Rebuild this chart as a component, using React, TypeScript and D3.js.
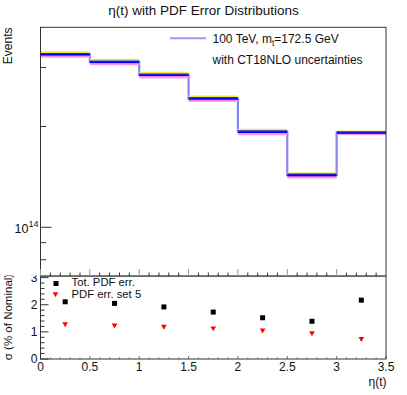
import React, { useEffect, useRef } from 'react';
import * as d3 from 'd3';

// eta(t) bins
const binEdges = [0, 0.5, 1, 1.5, 2, 2.5, 3, 3.5];

// Nominal histogram and a few PDF error sets (events per bin)
const nominal = [3.285e14, 3.12e14, 2.853e14, 2.424e14, 1.929e14, 1.433e14, 1.916e14];
const setYellow = [3.335e14, 3.167e14, 2.896e14, 2.46e14, 1.958e14, 1.453e14, 1.935e14];
const setPink = [3.228e14, 3.066e14, 2.803e14, 2.382e14, 1.896e14, 1.409e14, 1.899e14];
const setMagenta = [3.255e14, 3.092e14, 2.827e14, 2.402e14, 1.912e14, 1.42e14, 1.905e14];
const setNavy = [3.3e14, 3.135e14, 2.866e14, 2.436e14, 1.938e14, 1.44e14, 1.925e14];
const setBlue = [3.275e14, 3.11e14, 2.845e14, 2.417e14, 1.923e14, 1.429e14, 1.912e14];

// Lower pad: sigma in % of nominal
const binCenters = [0.25, 0.75, 1.25, 1.75, 2.25, 2.75, 3.25];
const totPdfErr = [2.11, 2.05, 1.92, 1.73, 1.52, 1.39, 2.17];
const pdfSet5Err = [1.29, 1.25, 1.2, 1.14, 1.06, 0.96, 0.75];

const xTicks = [0, 0.5, 1, 1.5, 2, 2.5, 3, 3.5];
const xTickLabels = ['0', '0.5', '1', '1.5', '2', '2.5', '3', '3.5'];
const ratioTicks = [0, 1, 2, 3];
const eventMinorTicks = [8e13, 9e13, 2e14, 3e14];

const W = 407;
const H = 395;
const font = 'Liberation Sans, Arial, Helvetica, sans-serif';
const frame = '#333';

const App = () => {
  const svgRef = useRef<SVGSVGElement>(null);

  useEffect(() => {
    const svg = d3.select(svgRef.current);
    svg.selectAll('*').remove();

    const left = 40.5;
    const right = 386;
    const topY = 27.3;
    const splitY = 276;
    const bottomY = 359;

    const x = d3.scaleLinear().domain([0, 3.5]).range([left, right]);
    const yTop = d3.scaleLog().domain([7.154e13, 3.955e14]).range([splitY, topY]);
    const yBot = d3.scaleLinear().domain([0, 3.06]).range([bottomY, splitY]);

    // ---------- lower pad ----------
    const low = svg.append('g');

    // y ticks, minor every 0.2
    d3.range(0, 3.01, 0.2).forEach((v) => {
      const major = Math.abs(v - Math.round(v)) < 1e-6;
      low.append('line')
        .attr('x1', left).attr('x2', left + (major ? 8 : 4))
        .attr('y1', yBot(v)).attr('y2', yBot(v))
        .attr('stroke', frame).attr('stroke-width', 1);
    });
    ratioTicks.forEach((v) => {
      low.append('text')
        .attr('x', 37.5).attr('y', yBot(v) + 4.3)
        .attr('text-anchor', 'end')
        .style('font-family', font).style('font-size', '12px').style('fill', '#111')
        .text(String(v));
    });
    // bottom x ticks
    d3.range(0, 3.51, 0.1).forEach((v) => {
      const major = Math.abs(v * 2 - Math.round(v * 2)) < 1e-6;
      low.append('line')
        .attr('x1', x(v)).attr('x2', x(v))
        .attr('y1', bottomY).attr('y2', bottomY - (major ? 3 : 1.5))
        .attr('stroke', '#777').attr('stroke-width', 1);
    });
    xTicks.forEach((v, i) => {
      low.append('text')
        .attr('x', x(v)).attr('y', 370.5)
        .attr('text-anchor', 'middle')
        .style('font-family', font).style('font-size', '12px').style('fill', '#111')
        .text(xTickLabels[i]);
    });

    low.append('rect')
      .attr('x', left).attr('y', splitY)
      .attr('width', right - left).attr('height', bottomY - splitY)
      .attr('fill', 'none').attr('stroke', frame).attr('stroke-width', 1);

    // markers
    low.selectAll('rect.tot').data(binCenters).enter().append('rect')
      .attr('x', (d) => x(d) - 2.5).attr('y', (d, i) => yBot(totPdfErr[i]) - 2.5)
      .attr('width', 5).attr('height', 5).attr('fill', '#000');
    const tri = d3.symbol().type(d3.symbolTriangle).size(14);
    low.selectAll('path.set5').data(binCenters).enter().append('path')
      .attr('d', tri)
      .attr('transform', (d, i) => `translate(${x(d)},${yBot(pdfSet5Err[i])}) rotate(180)`)
      .attr('fill', '#ff0000');

    // legend
    low.append('rect').attr('x', 53.5).attr('y', 281).attr('width', 5).attr('height', 5).attr('fill', '#000');
    low.append('path').attr('d', tri).attr('transform', 'translate(55.5,294) rotate(180)').attr('fill', '#ff0000');
    low.append('text').attr('x', 71.5).attr('y', 285.5)
      .style('font-family', font).style('font-size', '11.3px').style('fill', '#111')
      .text('Tot. PDF err.');
    low.append('text').attr('x', 71.5).attr('y', 297.5)
      .style('font-family', font).style('font-size', '11.3px').style('fill', '#111')
      .text('PDF err. set 5');

    low.append('text')
      .attr('transform', `translate(12,317) rotate(-90)`)
      .attr('text-anchor', 'middle')
      .style('font-family', font).style('font-size', '11.5px').style('fill', '#111')
      .text('σ (% of Nominal)');
    low.append('text')
      .attr('x', 386.5).attr('y', 385.5)
      .attr('text-anchor', 'end')
      .style('font-family', font).style('font-size', '12px').style('fill', '#111')
      .text('η(t)');

    // ---------- upper pad ----------
    svg.append('rect').attr('x', 0).attr('y', 0).attr('width', W).attr('height', splitY - 0.5).attr('fill', '#fff');
    const up = svg.append('g');

    up.append('text')
      .attr('x', 203.5).attr('y', 15)
      .attr('text-anchor', 'middle')
      .style('font-family', font).style('font-size', '13.5px').style('fill', '#111')
      .text('η(t) with PDF Error Distributions');

    const stepPoints = (vals: number[]) =>
      [...vals.map((v, i) => [binEdges[i], v]), [binEdges[binEdges.length - 1], vals[vals.length - 1]]];
    const step = d3.line<number[]>()
      .x((d) => x(d[0]))
      .y((d) => yTop(d[1]))
      .curve(d3.curveStepAfter);

    up.append('path')
      .attr('d', step(stepPoints(nominal) as number[][]))
      .attr('fill', 'none').attr('stroke', '#8585f5').attr('stroke-width', 2.2);

    const bands: [number[], string, number][] = [
      [setYellow, '#eeea4a', 1.6],
      [setPink, '#ff9ae8', 2],
      [setMagenta, '#f070e8', 1.2],
      [setNavy, '#2a2ab8', 1.4],
      [setBlue, '#0000ff', 1.6],
    ];
    bands.forEach(([vals, color, w]) => {
      up.append('g').selectAll('line').data(vals).enter().append('line')
        .attr('x1', (d, i) => x(binEdges[i]))
        .attr('x2', (d, i) => x(binEdges[i + 1]))
        .attr('y1', (d) => yTop(d)).attr('y2', (d) => yTop(d))
        .attr('stroke', color).attr('stroke-width', w);
    });

    // frame
    up.append('rect')
      .attr('x', left).attr('y', topY)
      .attr('width', right - left).attr('height', splitY - topY)
      .attr('fill', 'none').attr('stroke', frame).attr('stroke-width', 1);

    // x ticks pointing up from the shared border
    d3.range(0, 3.51, 0.1).forEach((v) => {
      const major = Math.abs(v * 2 - Math.round(v * 2)) < 1e-6;
      up.append('line')
        .attr('x1', x(v)).attr('x2', x(v))
        .attr('y1', splitY).attr('y2', splitY - (major ? 7 : 3.5))
        .attr('stroke', major ? '#999' : frame).attr('stroke-width', 1);
    });

    // log y ticks
    up.append('line').attr('x1', left).attr('x2', left + 11)
      .attr('y1', yTop(1e14)).attr('y2', yTop(1e14)).attr('stroke', frame);
    eventMinorTicks.forEach((v) => {
      up.append('line').attr('x1', left).attr('x2', left + 5.5)
        .attr('y1', yTop(v)).attr('y2', yTop(v)).attr('stroke', frame);
    });
    const lbl = up.append('text')
      .attr('x', 14.5).attr('y', yTop(1e14) + 5.5)
      .style('font-family', font).style('font-size', '12.5px').style('fill', '#111');
    lbl.append('tspan').text('10');
    lbl.append('tspan').attr('dy', -5.5).style('font-size', '9px').text('14');

    up.append('text')
      .attr('transform', `translate(12,27.5) rotate(-90)`)
      .attr('text-anchor', 'end')
      .style('font-family', font).style('font-size', '12px').style('fill', '#111')
      .text('Events');

    // legend
    up.append('line').attr('x1', 170).attr('x2', 206).attr('y1', 38.3).attr('y2', 38.3)
      .attr('stroke', '#9a9af0').attr('stroke-width', 2);
    const leg = up.append('text').attr('x', 212.5).attr('y', 42.5)
      .style('font-family', font).style('font-size', '12px').style('fill', '#111');
    leg.append('tspan').text('100 TeV, m');
    leg.append('tspan').attr('dy', 3).style('font-size', '8.5px').text('t');
    leg.append('tspan').attr('dy', -3).text('=172.5 GeV');
    up.append('text').attr('x', 212.5).attr('y', 63.5)
      .style('font-family', font).style('font-size', '12px').style('fill', '#111')
      .text('with CT18NLO uncertainties');
  }, []);

  return (
    <svg
      ref={svgRef}
      width={W}
      height={H}
      style={{ position: 'absolute', left: 0, top: 0, background: '#fff' }}
    ></svg>
  );
};

export default App;
